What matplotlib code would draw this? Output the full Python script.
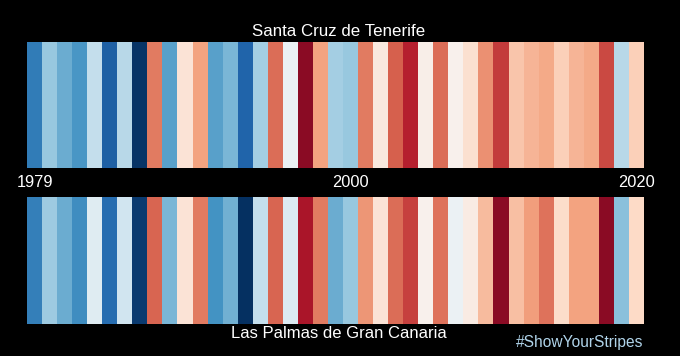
import numpy as np
import matplotlib
matplotlib.use('Agg')
import matplotlib.pyplot as plt
from matplotlib.transforms import blended_transform_factory

# stripe anomalies (scaled -1..1), one per stripe
tenerife = [-0.70, -0.38, -0.50, -0.58, -0.24, -0.82, -0.28, -0.98, 0.52, -0.54,
            0.14, 0.40, -0.54, -0.46, -0.80, -0.34, 0.56, -0.06, 0.90, 0.40,
            -0.34, -0.38, 0.52, 0.10, 0.60, 0.78, 0.06, 0.56, 0.04, 0.16,
            0.46, 0.70, 0.28, 0.34, 0.38, 0.24, 0.34, 0.38, 0.66, -0.28, 0.24]
gran_canaria = [-0.68, -0.36, -0.50, -0.62, -0.12, -0.76, -0.20, -0.96, 0.58, -0.46,
                0.14, 0.52, -0.60, -0.48, -1.00, -0.24, 0.58, -0.14, 0.82, 0.52,
                -0.50, -0.38, 0.44, 0.14, 0.56, 0.68, 0.04, 0.54, -0.06, 0.08,
                0.32, 0.90, 0.30, 0.42, 0.54, 0.18, 0.40, 0.40, 0.90, -0.42, 0.20]
tick_pos = [0, 21, 40]
tick_labels = ['1979', '2000', '2020']

plt.rcParams['font.family'] = ['Liberation Sans', 'DejaVu Sans']

fig = plt.figure(figsize=(6.8, 3.56), dpi=100, facecolor='black')

ax_top = fig.add_axes([27/680, 1 - 168/356, 617/680, 126/356])
ax_bot = fig.add_axes([27/680, 1 - 324/356, 617/680, 127/356])

for ax, vals in [(ax_top, tenerife), (ax_bot, gran_canaria)]:
    ax.imshow(np.array(vals)[np.newaxis, :], cmap='RdBu_r', vmin=-1, vmax=1,
              aspect='auto', extent=(-0.5, len(vals) - 0.5, 0, 1),
              interpolation='nearest')
    ax.set_axis_off()

fig.text(339/680, 1 - 31/356, 'Santa Cruz de Tenerife', color='white',
         fontsize=12.2, ha='center', va='center')
fig.text(339/680, 1 - 333/356, 'Las Palmas de Gran Canaria', color='white',
         fontsize=12, ha='center', va='center')
fig.text(643/680, 1 - 342/356, '#ShowYourStripes', color='#b0d4ea',
         fontsize=11.2, ha='right', va='center')

# year labels sit in the gap between the panels
trans = blended_transform_factory(ax_top.transData, fig.transFigure)
for pos, lab in zip(tick_pos, tick_labels):
    ax_top.text(pos, 1 - 182.5/356, lab, color='white', fontsize=11.8,
                ha='center', va='center', transform=trans)

fig.savefig('out.png', dpi=100, facecolor='black')
